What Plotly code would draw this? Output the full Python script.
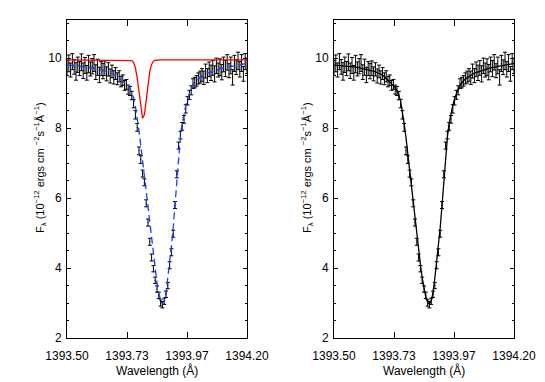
import plotly.graph_objects as go

# ---------------- data ----------------
WAVE_START = 1393.500
WAVE_STEP = 0.007
N_POINTS = 101
wavelength = [round(WAVE_START + WAVE_STEP * i, 4) for i in range(N_POINTS)]

flux_obs = [
    9.72, 9.85, 9.66, 9.90, 9.75, 9.62, 9.81, 9.70, 9.88, 9.64,
    9.79, 9.58, 9.83, 9.69, 9.77, 9.86, 9.60, 9.74, 9.52, 9.70,
    9.63, 9.71, 9.55, 9.68, 9.49, 9.62, 9.45, 9.56, 9.41, 9.48,
    9.33, 9.37, 9.22, 9.25, 9.10, 9.06, 8.93, 8.70, 8.38, 8.02,
    7.35, 7.10, 6.70, 6.45, 5.85, 5.30, 4.75, 4.30, 3.98, 3.65,
    3.40, 3.22, 3.00, 2.95, 3.05, 3.25, 3.50, 4.08, 4.45, 4.98,
    5.80, 6.68, 7.50, 7.80, 8.05, 8.25, 8.55, 8.78, 8.95, 9.08,
    9.27, 9.30, 9.35, 9.42, 9.46, 9.52, 9.44, 9.63, 9.50, 9.68,
    9.58, 9.72, 9.55, 9.78, 9.66, 9.74, 9.60, 9.82, 9.70, 9.88,
    9.64, 9.79, 9.45, 9.85, 9.74, 9.92, 9.68, 9.86, 9.55, 9.90,
    9.78,
]

flux_err = [
    0.22, 0.24, 0.20, 0.23, 0.21, 0.25, 0.22, 0.20, 0.24, 0.22,
    0.23, 0.21, 0.25, 0.20, 0.22, 0.24, 0.21, 0.23, 0.22, 0.20,
    0.22, 0.21, 0.20, 0.19, 0.20, 0.18, 0.19, 0.17, 0.17, 0.16,
    0.15, 0.15, 0.14, 0.14, 0.13, 0.13, 0.12, 0.12, 0.12, 0.11,
    0.11, 0.11, 0.10, 0.10, 0.10, 0.10, 0.10, 0.10, 0.09, 0.09,
    0.09, 0.09, 0.09, 0.09, 0.09, 0.09, 0.09, 0.10, 0.10, 0.10,
    0.10, 0.10, 0.10, 0.11, 0.11, 0.11, 0.12, 0.12, 0.13, 0.13,
    0.14, 0.15, 0.15, 0.16, 0.17, 0.18, 0.19, 0.20, 0.20, 0.21,
    0.22, 0.21, 0.23, 0.22, 0.20, 0.24, 0.22, 0.21, 0.23, 0.22,
    0.20, 0.24, 0.22, 0.23, 0.21, 0.25, 0.22, 0.24, 0.21, 0.23,
    0.22,
]

# total fit (black, right panel)
fit_total = [
    9.80, 9.80, 9.79, 9.79, 9.78, 9.78, 9.77, 9.77, 9.76, 9.76,
    9.75, 9.75, 9.74, 9.73, 9.73, 9.72, 9.71, 9.70, 9.69, 9.68,
    9.66, 9.65, 9.63, 9.61, 9.59, 9.57, 9.54, 9.51, 9.47, 9.43,
    9.37, 9.32, 9.27, 9.22, 9.15, 9.07, 8.95, 8.77, 8.48, 8.12,
    7.72, 7.25, 6.82, 6.42, 5.98, 5.50, 5.02, 4.55, 4.10, 3.72,
    3.40, 3.17, 3.03, 2.96, 3.05, 3.30, 3.70, 4.15, 4.62, 5.15,
    5.78, 6.50, 7.20, 7.75, 8.15, 8.42, 8.65, 8.84, 9.00, 9.12,
    9.22, 9.30, 9.36, 9.40, 9.44, 9.48, 9.51, 9.54, 9.57, 9.59,
    9.61, 9.63, 9.65, 9.67, 9.68, 9.70, 9.71, 9.72, 9.73, 9.74,
    9.75, 9.76, 9.77, 9.78, 9.79, 9.80, 9.81, 9.82, 9.83, 9.84,
    9.85,
]

# broad component (blue dashed, left panel)
fit_broad = [
    9.80, 9.80, 9.79, 9.79, 9.78, 9.78, 9.77, 9.77, 9.76, 9.76,
    9.75, 9.75, 9.74, 9.73, 9.73, 9.72, 9.71, 9.70, 9.69, 9.68,
    9.66, 9.65, 9.63, 9.61, 9.59, 9.57, 9.54, 9.51, 9.47, 9.43,
    9.40, 9.36, 9.32, 9.28, 9.22, 9.13, 9.02, 8.86, 8.62, 8.30,
    7.92, 7.50, 7.05, 6.65, 6.22, 5.76, 5.28, 4.80, 4.33, 3.92,
    3.57, 3.28, 3.08, 2.98, 3.02, 3.28, 3.70, 4.15, 4.62, 5.15,
    5.78, 6.50, 7.20, 7.75, 8.15, 8.42, 8.65, 8.84, 9.00, 9.12,
    9.22, 9.30, 9.36, 9.40, 9.44, 9.48, 9.51, 9.54, 9.57, 9.59,
    9.61, 9.63, 9.65, 9.67, 9.68, 9.70, 9.71, 9.72, 9.73, 9.74,
    9.75, 9.76, 9.77, 9.78, 9.79, 9.80, 9.81, 9.82, 9.83, 9.84,
    9.85,
]

# narrow component (red, left panel)
fit_narrow = [
    9.95, 9.95, 9.95, 9.95, 9.95, 9.95, 9.95, 9.95, 9.95, 9.95,
    9.95, 9.95, 9.95, 9.95, 9.95, 9.95, 9.95, 9.95, 9.95, 9.95,
    9.95, 9.95, 9.95, 9.95, 9.95, 9.95, 9.95, 9.95, 9.95, 9.95,
    9.95, 9.95, 9.95, 9.95, 9.95, 9.94, 9.93, 9.87, 9.73, 9.43,
    9.00, 8.55, 8.28, 8.38, 8.78, 9.25, 9.62, 9.82, 9.91, 9.94,
    9.95, 9.95, 9.95, 9.95, 9.95, 9.95, 9.95, 9.95, 9.95, 9.95,
    9.95, 9.95, 9.95, 9.95, 9.95, 9.95, 9.95, 9.95, 9.95, 9.95,
    9.95, 9.95, 9.95, 9.95, 9.95, 9.95, 9.95, 9.95, 9.95, 9.95,
    9.95, 9.95, 9.95, 9.95, 9.95, 9.95, 9.95, 9.95, 9.95, 9.95,
    9.95, 9.95, 9.95, 9.95, 9.95, 9.95, 9.95, 9.95, 9.95, 9.95,
    9.95,
]

x_tickvals = [1393.50, 1393.50 + 0.7 / 3, 1393.50 + 1.4 / 3, 1394.20]
x_ticktext = ["1393.50", "1393.73", "1393.97", "1394.20"]
y_tickvals = [2, 4, 6, 8, 10]
x_range = [1393.50, 1394.20]
y_range = [2, 11.09]

# ---------------- figure ----------------
W, H = 545, 382
FONT = "Liberation Sans, Arial, Helvetica, sans-serif"

fig = go.Figure()

def data_trace(xa, ya):
    return go.Scatter(
        x=wavelength, y=flux_obs, mode="markers", xaxis=xa, yaxis=ya,
        marker=dict(size=1, color="black"),
        error_y=dict(type="data", array=flux_err, visible=True,
                     color="black", thickness=1, width=2),
        showlegend=False, hoverinfo="skip",
    )

fig.add_trace(data_trace("x", "y"))
fig.add_trace(go.Scatter(x=wavelength, y=fit_narrow, mode="lines", xaxis="x", yaxis="y",
                         line=dict(color="#ff0000", width=1.3), showlegend=False))
fig.add_trace(go.Scatter(x=wavelength, y=fit_broad, mode="lines", xaxis="x", yaxis="y",
                         line=dict(color="#1a3cff", width=1.3, dash="7px,4px"), showlegend=False))

fig.add_trace(data_trace("x2", "y2"))
fig.add_trace(go.Scatter(x=wavelength, y=fit_total, mode="lines", xaxis="x2", yaxis="y2",
                         line=dict(color="black", width=1.3), showlegend=False))

L1, R1 = 67, 247
L2, R2 = 334, 514
TOP, BOT = 20, 338

def xax(l, r, anchor):
    return dict(
        domain=[l / W, r / W], anchor=anchor, range=x_range, automargin=False,
        tickvals=x_tickvals, ticktext=x_ticktext,
        ticks="inside", ticklen=6, tickcolor="black", tickwidth=1,
        mirror="allticks", showline=True, linecolor="black", linewidth=1,
        showgrid=False, zeroline=False,
        tickfont=dict(family=FONT, size=12, color="black"),
        ticklabelstandoff=7,
    )

def yax(anchor):
    return dict(
        domain=[1 - BOT / H, 1 - TOP / H], anchor=anchor, range=y_range, automargin=False,
        tickvals=y_tickvals, ticks="inside", ticklen=4, tickcolor="black", tickwidth=1,
        minor=dict(dtick=0.5, tick0=2, ticks="inside", ticklen=2, tickcolor="black"),
        mirror="allticks", showline=True, linecolor="black", linewidth=1,
        showgrid=False, zeroline=False,
        tickfont=dict(family=FONT, size=12, color="black"),
        ticklabelstandoff=2,
    )

ytitle = ("F<sub>λ</sub> (10<sup>−12</sup> ergs cm <sup>−2</sup>s<sup>−1</sup>Å<sup>−1</sup>)")

annotations = []
for l, r in [(L1, R1), (L2, R2)]:
    annotations.append(dict(
        text="Wavelength (Å)", x=(l + r) / 2 / W, y=1 - 370 / H,
        xref="paper", yref="paper", showarrow=False,
        xanchor="center", yanchor="middle",
        font=dict(family=FONT, size=12, color="black")))
    annotations.append(dict(
        text=ytitle, x=(l - 27) / W, y=1 - 168 / H,
        xref="paper", yref="paper", showarrow=False, textangle=-90,
        xanchor="center", yanchor="middle",
        font=dict(family=FONT, size=11, color="black")))

fig.update_layout(
    width=W, height=H,
    margin=dict(l=0, r=0, t=0, b=0, autoexpand=False),
    paper_bgcolor="white", plot_bgcolor="white",
    xaxis=xax(L1, R1, "y"), yaxis=yax("x"),
    xaxis2=xax(L2, R2, "y2"), yaxis2=yax("x2"),
    annotations=annotations,
    showlegend=False,
)

fig.write_html("out.html",
               config={"displayModeBar": False, "staticPlot": True},
               post_script="document.body.style.margin='0';document.body.style.overflow='hidden';")
